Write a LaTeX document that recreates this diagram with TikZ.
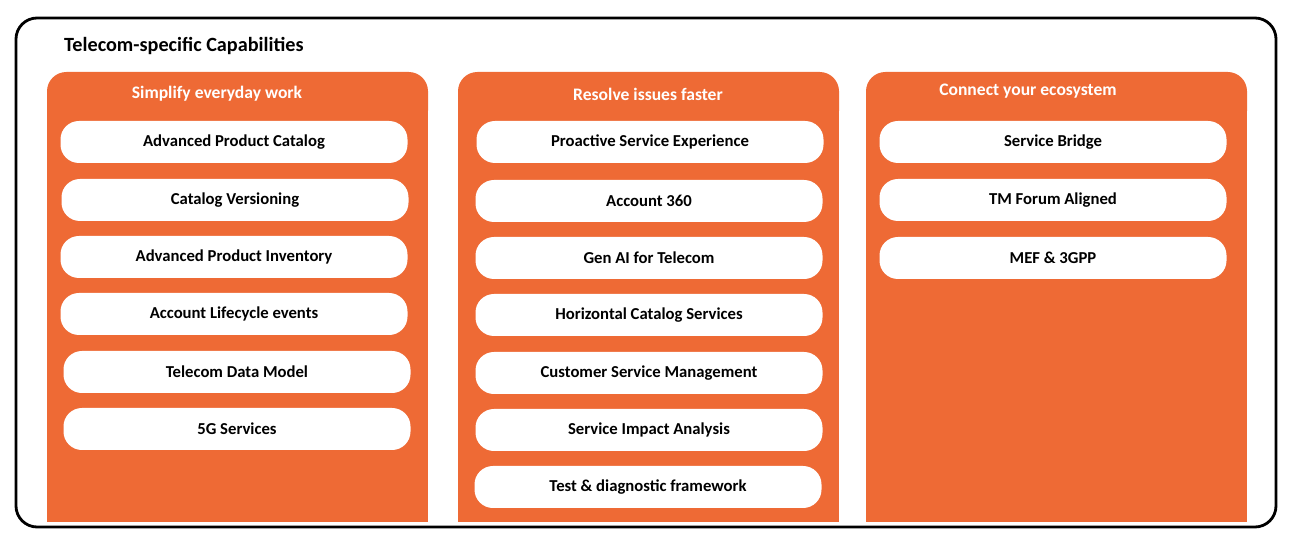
\documentclass[tikz,border=0pt]{standalone}
\usepackage{fontspec}
\setmainfont{Carlito}
\usetikzlibrary{positioning}
\definecolor{tcorange}{HTML}{EE6A35}
\begin{document}
\begin{tikzpicture}
  [x=0.02cm,y=-0.02cm,
   frame/.style={draw=black,line width=1.6pt,rounded corners=12pt},
   column/.style={fill=tcorange,rounded corners=11pt},
   colhead/.style={text=white,font=\bfseries\fontsize{10}{12}\selectfont},
   pill/.style={fill=white,rounded corners=10.5pt,minimum width=347*0.02cm,minimum height=42*0.02cm,font=\bfseries\fontsize{9.5}{11}\selectfont,inner sep=0pt}]

  \useasboundingbox (0,0) rectangle (1297,546);
  \draw[frame] (16,18) rectangle (1276,527);
  \node[anchor=west,font=\bfseries\fontsize{11.5}{13}\selectfont] (title) at (58,46) {Telecom-specific Capabilities};

  % columns, square bottom hidden under the frame
  \fill[tcorange] (47,100) rectangle (428,522);
  \fill[column] (47,72) rectangle (428,130);
  \fill[tcorange] (458,100) rectangle (839,522);
  \fill[column] (458,72) rectangle (839,130);
  \fill[tcorange] (866,100) rectangle (1247,522);
  \fill[column] (866,72) rectangle (1247,130);

  \node[colhead] (simplify) at (217,94) {Simplify everyday work};
  \node[colhead] (resolve) at (648,94) {Resolve issues faster};
  \node[colhead] (connect) at (1028,91) {Connect your ecosystem};

  \foreach \x/\y/\txt [count=\i] in {234/142/Advanced Product Catalog, 235/200/Catalog Versioning,
      234/257/Advanced Product Inventory, 234/314/Account Lifecycle events,
      237/372/Telecom Data Model, 237/429/5G Services}
    \node[pill] (simp\i) at (\x,\y) {\txt};

  \foreach \x/\y/\txt [count=\i] in {650/142/Proactive Service Experience, 649/201/Account 360,
      649/258/Gen AI for Telecom, 649/315/Horizontal Catalog Services,
      649/373/Customer Service Management, 649/430/Service Impact Analysis,
      648/487/Test \& diagnostic framework}
    \node[pill] (res\i) at (\x,\y) {\txt};

  \foreach \x/\y/\txt [count=\i] in {1053/142/Service Bridge, 1053/200/TM Forum Aligned,
      1053/258/MEF \& 3GPP}
    \node[pill] (con\i) at (\x,\y) {\txt};
\end{tikzpicture}
\end{document}
